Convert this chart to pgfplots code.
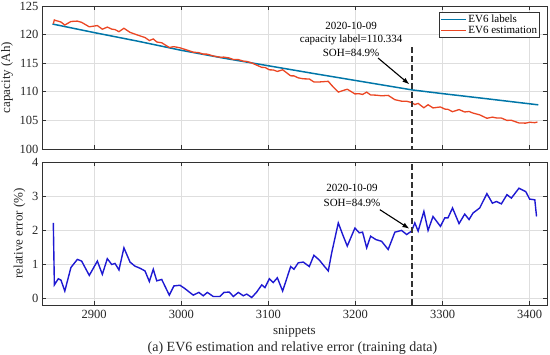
\documentclass[border=0pt]{standalone}
\usepackage{fontspec}
\setmainfont{Liberation Serif}
\usepackage{pgfplots}
\pgfplotsset{compat=1.18}
\usetikzlibrary{arrows.meta}
\definecolor{lblue}{RGB}{0,118,168}
\definecolor{ered}{RGB}{235,70,35}
\definecolor{errblue}{RGB}{30,25,210}
\definecolor{axgray}{RGB}{50,50,50}
\definecolor{gridgray}{RGB}{222,222,222}
\pgfplotsset{
 common/.style={scale only axis, width=505pt, height=143pt,
  xmin=2840, xmax=3420, xtick={2900,3000,...,3400},
  grid=major, major grid style={gridgray, line width=0.6pt},
  axis line style={axgray, line width=0.9pt},
  tick style={axgray, line width=0.6pt}, major tick length=4pt,
  tick align=inside, tick pos=both,
  ticklabel style={font=\fontsize{12.5}{14}\selectfont, text=black!85},
  xticklabel style={yshift=-2pt},
  /pgf/number format/assume math mode=true,
  /pgf/number format/1000 sep={},
  label style={font=\fontsize{13}{14}\selectfont, text=black!85},
 }
}
\begin{document}
\begin{tikzpicture}
\useasboundingbox (0,0) rectangle (550pt,-355pt);
\begin{axis}[common, name=top, at={(42pt,-6pt)}, anchor=north west,
  ymin=100, ymax=125, ytick={100,105,...,125}, xticklabels={},
  ylabel={capacity (Ah)},
  legend style={at={(0.986,0.958)}, anchor=north east, draw=axgray, line width=0.5pt,
    font=\fontsize{11}{12}\selectfont, inner sep=1pt, row sep=-1pt,
    nodes={inner sep=1.5pt}},
  legend cell align=left,
  legend image code/.code={\draw[#1, line width=1.5pt] (0pt,0pt) -- (25pt,0pt);}]
\addplot[lblue, line width=1.5pt] coordinates {
(2852,121.85) (2900,120.35) (2950,118.85) (3000,117.25) (3050,115.85) (3100,114.55)
(3150,113.25) (3200,111.98) (3265,110.33) (3300,109.68) (3350,108.8) (3410,107.72)};
\addlegendentry{EV6 labels}
\addplot[ered, line width=1.3pt] coordinates {
(2853.0,121.9) (2854.2,122.56) (2856,122.45) (2858.7,122.34) (2861.8,122.19) (2866.2,121.67)
(2873.2,122.29) (2880.6,122.36) (2885.5,122.14) (2894.3,121.36) (2903.6,121.58)
(2909.3,120.94) (2915.0,121.31) (2920.1,120.96) (2923.9,120.87) (2928.4,120.51)
(2934.1,121.11) (2941.1,120.39) (2946.8,120.08) (2952.6,119.77) (2958.3,119.49)
(2963.3,118.96) (2967.8,119.24) (2971.8,118.71) (2977.5,118.57) (2986.2,117.75)
(2991.5,117.89) (2998.5,117.69) (3004.2,117.41) (3013.7,116.93) (3020.2,116.84)
(3025.2,116.59) (3029.9,116.58) (3036.7,116.26) (3044.4,116.05) (3049.1,116.06)
(3055.1,115.91) (3059.8,115.64) (3065.5,115.63) (3071.2,115.36) (3075.1,115.31)
(3080.9,115.04) (3086.6,114.66) (3092.4,114.27) (3096.1,114.26) (3101.1,113.84)
(3105.6,113.82) (3110.3,113.56) (3116.4,113.85) (3125.6,112.79) (3129.4,112.78)
(3134.3,112.44) (3140.1,112.27) (3147.0,112.24) (3152.3,111.72) (3158.5,111.72)
(3164.2,111.78) (3168.8,111.83) (3172.7,111.13) (3180.3,109.95) (3185.3,110.20)
(3190.6,110.45) (3199.4,109.63) (3204.4,109.66) (3208.2,109.54) (3212.9,109.94)
(3217.4,109.45) (3223.6,109.41) (3230.1,109.30) (3237.6,109.37) (3245.3,108.62)
(3253.0,108.36) (3258.8,108.35) (3264.5,108.12) (3268.2,107.77) (3272.0,107.97)
(3278.6,107.21) (3283.4,107.74) (3289.1,107.18) (3297.6,107.35) (3302.6,106.98)
(3306.3,106.93) (3311.5,106.52) (3319.0,106.89) (3325.5,106.47) (3330.5,106.56)
(3335.0,106.28) (3342.7,105.97) (3351.0,105.37) (3357.3,105.57) (3361.9,105.43)
(3367.6,105.41) (3374.0,105.00) (3379.1,105.02) (3387.8,104.55) (3395.6,104.52)
(3400.1,104.68) (3406.0,104.60) (3409.0,104.72)};
\addlegendentry{EV6 estimation}
\addplot[axgray, line width=1.4pt, dash pattern=on 6pt off 3pt, forget plot] coordinates {(3265,117.8) (3265,100)};
\draw[-{Latex[length=7pt,width=5pt]}, line width=1.1pt] (axis cs:3226,115.9) -- (axis cs:3262,111.3);
\node[align=center, font=\fontsize{11}{13.5}\selectfont, inner sep=0pt] at (axis cs:3195,119.2)
 {2020-10-09\\capacity label=110.334\\SOH=84.9\%};
\end{axis}
\begin{axis}[common, name=bot, at={(42pt,-162pt)}, anchor=north west,
  ymin=-0.2, ymax=4, ytick={0,1,2,3,4},
  xlabel={snippets}, ylabel={relative error (\%)},
  xlabel style={yshift=0pt}]
\addplot[errblue, line width=1.4pt] coordinates {
(2853.0,2.21) (2854.2,0.39) (2858.7,0.57) (2861.8,0.53) (2866.2,0.21) (2873.2,0.90)
(2880.6,1.14) (2885.5,1.09) (2894.3,0.67) (2903.6,1.09) (2909.3,0.70) (2915.0,1.16)
(2920.1,0.99) (2923.9,1.02) (2928.4,0.83) (2934.1,1.48) (2941.1,1.06) (2946.8,0.94)
(2952.6,0.88) (2958.3,0.80) (2963.3,0.49) (2967.8,0.85) (2971.8,0.51) (2977.5,0.55)
(2986.2,0.09) (2991.5,0.36) (2998.5,0.38) (3004.2,0.28) (3013.7,0.09) (3020.2,0.17)
(3025.2,0.07) (3029.9,0.17) (3036.7,0.05) (3044.4,0.05) (3049.1,0.17) (3055.1,0.18)
(3059.8,0.05) (3065.5,0.17) (3071.2,0.07) (3075.1,0.12) (3080.9,0.02) (3086.6,0.18)
(3092.4,0.39) (3096.1,0.31) (3101.1,0.57) (3105.6,0.46) (3110.3,0.60) (3116.4,0.21)
(3125.6,0.93) (3129.4,0.85) (3134.3,1.04) (3140.1,1.06) (3147.0,0.93) (3152.3,1.26)
(3158.5,1.12) (3164.2,0.94) (3168.8,0.80) (3172.7,1.33) (3180.3,2.21) (3185.3,1.87)
(3190.6,1.53) (3199.4,2.06) (3204.4,1.92) (3208.2,1.94) (3212.9,1.48) (3217.4,1.82)
(3223.6,1.72) (3230.1,1.67) (3237.6,1.43) (3245.3,1.94) (3253.0,1.99) (3258.8,1.87)
(3264.5,1.97) (3268.2,2.21) (3272.0,1.97) (3278.6,2.55) (3283.4,1.99) (3289.1,2.40)
(3297.6,2.11) (3302.6,2.36) (3306.3,2.36) (3311.5,2.65) (3319.0,2.19) (3325.5,2.47)
(3330.5,2.31) (3335.0,2.50) (3342.7,2.65) (3351.0,3.07) (3357.3,2.79) (3361.9,2.84)
(3367.6,2.77) (3374.0,3.04) (3379.1,2.94) (3387.8,3.23) (3395.6,3.13) (3400.1,2.91)
(3406.0,2.89) (3408.0,2.40)};
\addplot[axgray, line width=1.4pt, dash pattern=on 6pt off 3pt] coordinates {(3265,-0.2) (3265,4)};
\draw[-{Latex[length=7pt,width=5pt]}, line width=1.1pt] (axis cs:3228,2.60) -- (axis cs:3262,2.04);
\node[align=center, font=\fontsize{11}{14.5}\selectfont, inner sep=0pt] at (axis cs:3196,3.02)
 {2020-10-09\\SOH=84.9\%};
\end{axis}
\node[font=\fontsize{14}{15}\selectfont, text=black!85, inner sep=1pt] at ([xshift=-2pt,yshift=-43pt]bot.south) {(a) EV6 estimation and relative error (training data)};
\end{tikzpicture}
\end{document}
